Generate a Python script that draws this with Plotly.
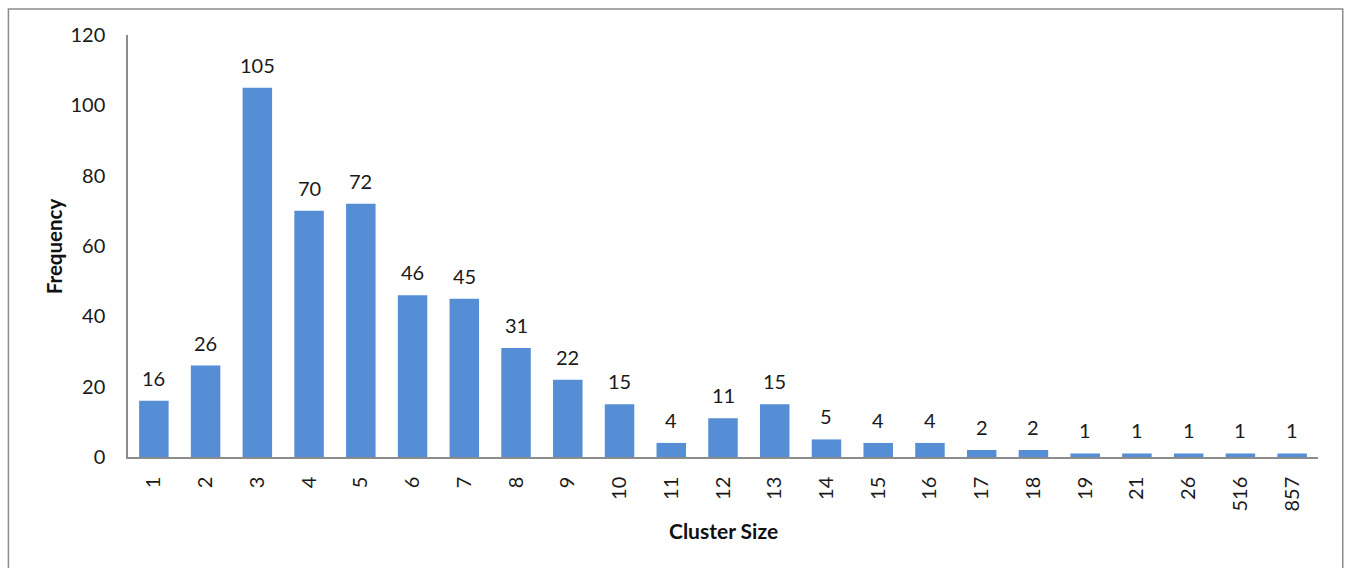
import plotly.graph_objects as go

# Cluster size categories and how often each occurs
cluster_sizes = ["1", "2", "3", "4", "5", "6", "7", "8", "9", "10", "11", "12",
                 "13", "14", "15", "16", "17", "18", "19", "21", "26", "516", "857"]
frequencies = [16, 26, 105, 70, 72, 46, 45, 31, 22, 15, 4, 11,
               15, 5, 4, 4, 2, 2, 1, 1, 1, 1, 1]
y_ticks = [0, 20, 40, 60, 80, 100, 120]

FONT = "Lato, 'Open Sans', sans-serif"
BAR_COLOR = "#558ED5"
TEXT_COLOR = "#1a1a1a"

# Categories are placed at evenly spaced slots and labelled with their size
positions = list(range(len(cluster_sizes)))

fig = go.Figure(
    go.Bar(
        x=positions,
        y=frequencies,
        customdata=cluster_sizes,
        marker=dict(color=BAR_COLOR, line=dict(width=0)),
        width=0.57,
        hovertemplate="Cluster size %{customdata}: %{y}<extra></extra>",
    )
)

# Value labels above each bar
annotations = [
    dict(x=p, y=v, text=str(v), showarrow=False, xref="x", yref="y",
         yanchor="bottom", yshift=9, font=dict(family=FONT, size=20, color=TEXT_COLOR))
    for p, v in zip(positions, frequencies)
]
# Axis titles
annotations.append(dict(x=-0.062, y=0.5, xref="paper", yref="paper", text="<b>Frequency</b>",
                        textangle=-90, showarrow=False, xanchor="center", yanchor="middle",
                        font=dict(family=FONT, size=20.5, color="#111")))
annotations.append(dict(x=0.5, y=-0.173, xref="paper", yref="paper", text="<b>Cluster Size</b>",
                        showarrow=False, xanchor="center", yanchor="middle",
                        font=dict(family=FONT, size=21, color="#111")))

fig.update_layout(
    width=1346,
    height=568,
    margin=dict(l=128, r=28, t=35, b=111),
    paper_bgcolor="white",
    plot_bgcolor="white",
    showlegend=False,
    font=dict(family=FONT, size=20, color=TEXT_COLOR),
    annotations=annotations,
    shapes=[dict(type="rect", xref="paper", yref="paper",
                 x0=-0.1005, x1=1.0208, y0=-0.30, y1=1.0616,
                 line=dict(color="#8c8c8c", width=1.5), fillcolor="rgba(0,0,0,0)",
                 layer="below")],
)

fig.update_xaxes(
    range=[-0.5, len(cluster_sizes) - 0.5],
    tickvals=positions,
    ticktext=cluster_sizes,
    tickangle=-90,
    showline=True,
    linecolor="#8c8c8c",
    linewidth=1.5,
    showgrid=False,
    zeroline=False,
    ticks="",
    ticklabelstandoff=10,
    tickfont=dict(family=FONT, size=20, color=TEXT_COLOR),
    automargin=False,
)
fig.update_yaxes(
    range=[0, 120],
    tickvals=y_ticks,
    showline=True,
    linecolor="#8c8c8c",
    linewidth=1.5,
    showgrid=False,
    zeroline=False,
    ticks="",
    ticklabelstandoff=17,
    tickfont=dict(family=FONT, size=20, color=TEXT_COLOR),
    automargin=False,
)

fig.write_html("out.html")
